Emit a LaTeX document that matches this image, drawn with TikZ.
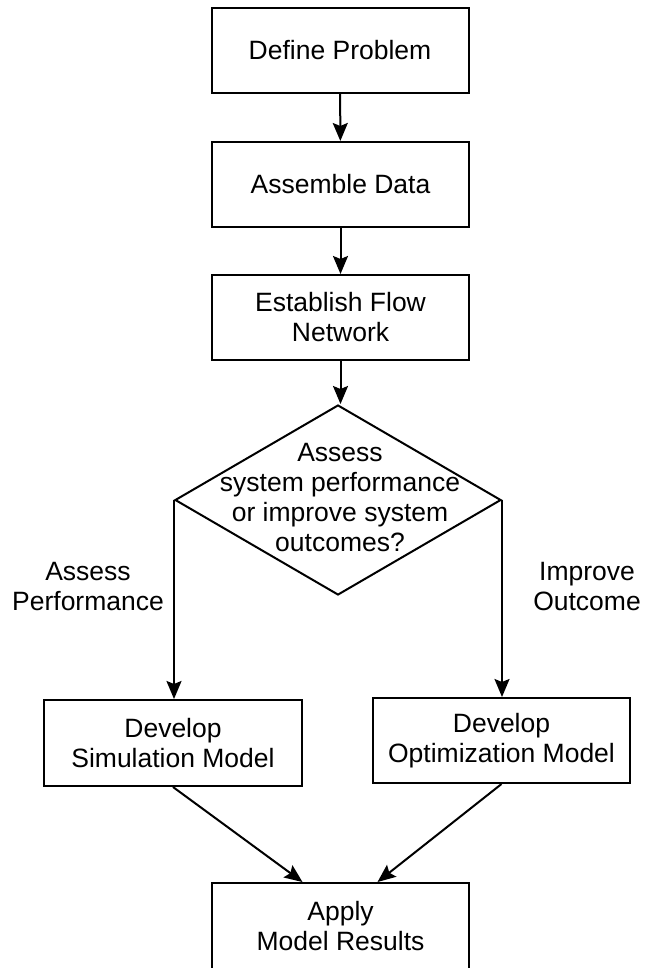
\documentclass[tikz,border=0pt]{standalone}
\usepackage{fontspec}
\setmainfont{Liberation Sans}
\usetikzlibrary{arrows.meta,shapes.geometric}
\begin{document}
\begin{tikzpicture}[x=1pt,y=-1pt,
  every node/.style={font=\fontsize{26.5}{30}\selectfont, align=center},
  stepbox/.style={draw, line width=2pt, minimum width=257pt, minimum height=85pt, inner sep=0pt},
  decision/.style={draw, diamond, line width=2pt, minimum width=326pt, minimum height=190pt, inner sep=0pt},
  flow/.style={draw, line width=2pt, -{Stealth[length=18pt,width=15pt,inset=3pt]}}]
  \useasboundingbox (0,0) rectangle (646,968);
  \clip (0,0) rectangle (646,968);

  % process steps
  \node[stepbox] (define) at (340,50.5) {Define Problem};
  \node[stepbox] (data) at (340.5,184.5) {Assemble Data};
  \node[stepbox] (network) at (340.5,317.5) {Establish Flow\\Network};

  % decision
  \node[decision] (choice) at (338,500) {};
  \node (choicetext) at (340,498) {Assess\\system performance\\or improve system\\outcomes?};

  % model branches
  \node[stepbox, minimum width=258pt, minimum height=86pt] (sim) at (173,743) {Develop\\Simulation Model};
  \node[stepbox] (opt) at (501.5,740.5) {Develop\\Optimization Model};
  \node[stepbox, minimum height=87pt] (apply) at (340.5,926.5) {Apply\\Model Results};

  % branch labels
  \node (lassess) at (88,587) {Assess\\Performance};
  \node (limprove) at (587,587) {Improve\\Outcome};

  % connectors
  \draw[flow] (define) -- (data);
  \draw[flow] (data) -- (network);
  \draw[flow] (network.south) -- (network.south |- choice.north);
  \draw[flow] (choice.west) -- (choice.west |- sim.north);
  \draw[flow] (choice.east) -- (choice.east |- opt.north);
  \draw[flow] (sim.south) -- ([xshift=-38pt]apply.north);
  \draw[flow] (opt.south) -- ([xshift=37pt]apply.north);
\end{tikzpicture}
\end{document}
